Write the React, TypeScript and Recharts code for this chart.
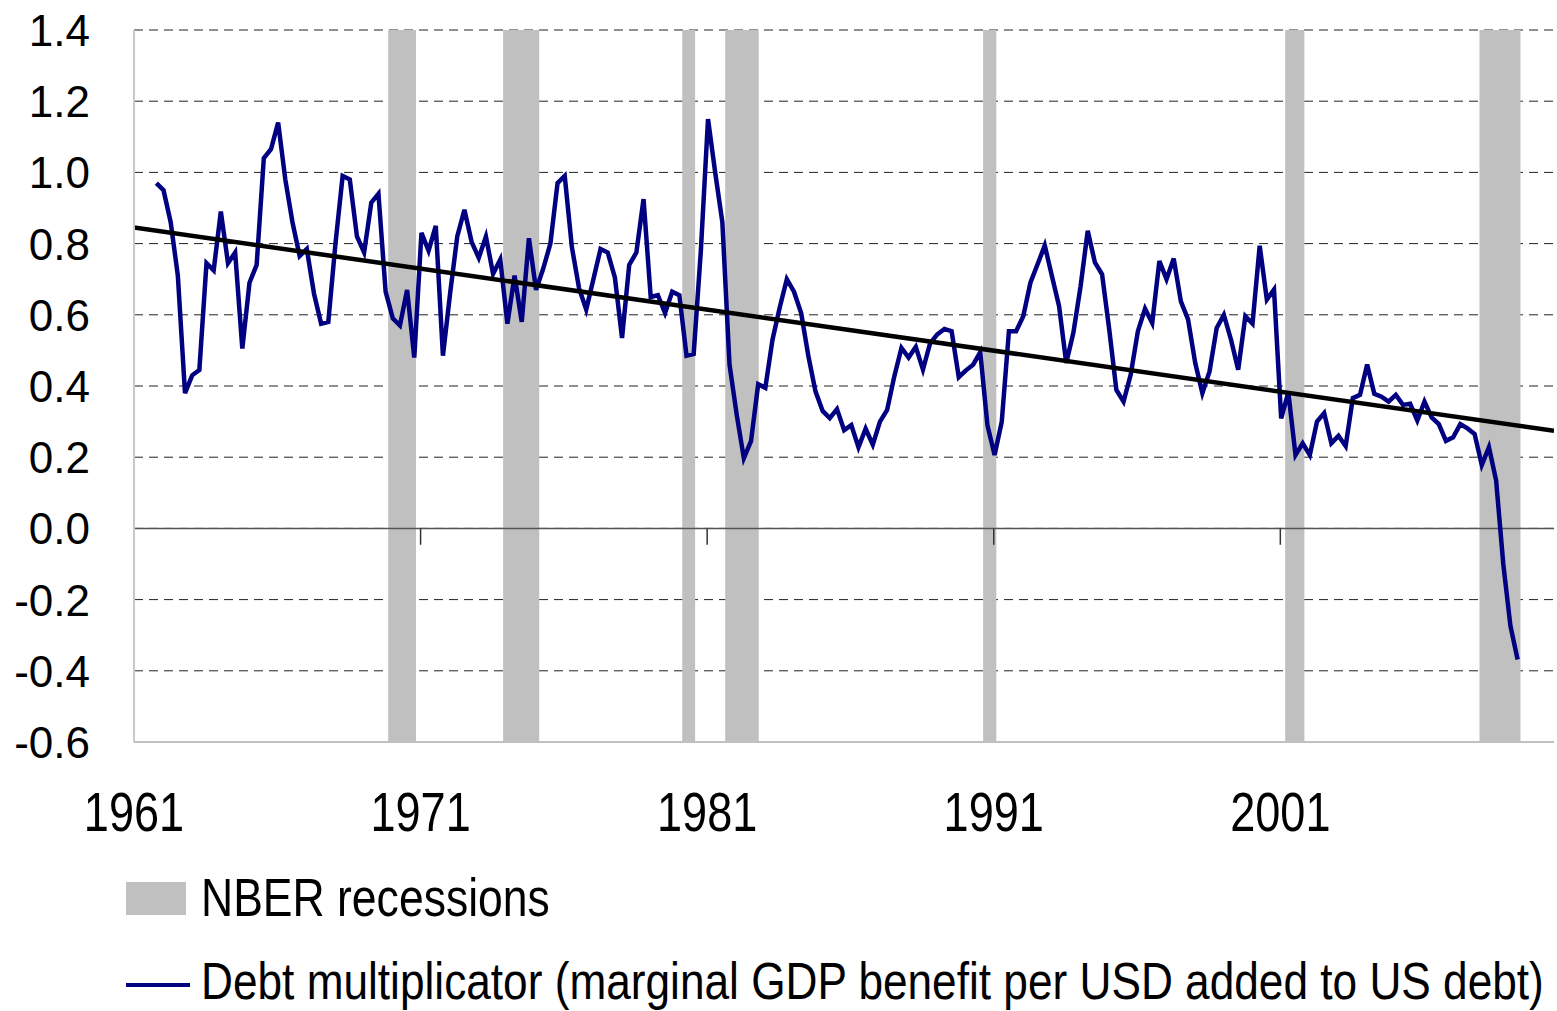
import React from "react";
import { ComposedChart, Line, XAxis, YAxis, CartesianGrid, ReferenceArea, ReferenceLine } from "recharts";

// quarterly debt multiplicator, starting 1961 Q4
const FIRST_QUARTER = 1961.78;
const MULTIPLIER = [
    0.97, 0.95, 0.86, 0.71, 0.38, 0.43, 0.445, 0.745, 0.725, 0.89,
    0.745, 0.775, 0.505, 0.69, 0.74, 1.04, 1.065, 1.14, 0.98, 0.86,
    0.765, 0.785, 0.66, 0.575, 0.58, 0.8, 0.99, 0.98, 0.82, 0.775,
    0.915, 0.94, 0.665, 0.59, 0.57, 0.67, 0.48, 0.83, 0.78, 0.85,
    0.485, 0.66, 0.82, 0.895, 0.805, 0.76, 0.82, 0.715, 0.755, 0.575,
    0.71, 0.58, 0.815, 0.67, 0.73, 0.8, 0.97, 0.99, 0.79, 0.675,
    0.615, 0.7, 0.785, 0.775, 0.705, 0.535, 0.74, 0.775, 0.925, 0.65,
    0.655, 0.605, 0.665, 0.655, 0.485, 0.49, 0.78, 1.15, 1.0, 0.86,
    0.46, 0.32, 0.197, 0.245, 0.405, 0.395, 0.53, 0.62, 0.7, 0.665,
    0.605, 0.485, 0.385, 0.33, 0.31, 0.335, 0.276, 0.29, 0.228, 0.28,
    0.235, 0.3, 0.333, 0.427, 0.507, 0.48, 0.51, 0.446, 0.52, 0.545,
    0.56, 0.554, 0.425, 0.444, 0.46, 0.495, 0.29, 0.206, 0.3, 0.554,
    0.554, 0.596, 0.69, 0.742, 0.795, 0.709, 0.624, 0.465, 0.55, 0.68,
    0.836, 0.747, 0.714, 0.559, 0.389, 0.356, 0.432, 0.554, 0.617, 0.577,
    0.751, 0.7, 0.758, 0.638, 0.587, 0.465, 0.38, 0.441, 0.563, 0.6,
    0.53, 0.446, 0.596, 0.575, 0.794, 0.643, 0.671, 0.309, 0.382, 0.206,
    0.239, 0.206, 0.3, 0.324, 0.239, 0.26, 0.231, 0.366, 0.375, 0.46,
    0.378, 0.37, 0.356, 0.375, 0.347, 0.35, 0.303, 0.356, 0.312, 0.293,
    0.246, 0.256, 0.293, 0.281, 0.265, 0.178, 0.228, 0.135, -0.1, -0.274,
    -0.368,
];

// linear trend end points
const TREND_YEARS = [1961, 2010.55];
const TREND_VALUES = [0.845, 0.274];

// NBER recession start / end (decimal years)
const RECESSION_START = [1969.87, 1973.88, 1980.13, 1981.63, 1990.63, 2001.17, 2007.95];
const RECESSION_END = [1970.84, 1975.14, 1980.58, 1982.8, 1991.09, 2001.84, 2009.38];

const YEAR_TICKS = [1961, 1971, 1981, 1991, 2001];
const VALUE_TICKS = [-0.6, -0.4, -0.2, 0, 0.2, 0.4, 0.6, 0.8, 1.0, 1.2, 1.4];

const LEGEND_LABELS = ["NBER recessions", "Debt multiplicator (marginal GDP benefit per USD added to US debt)"];

const series = MULTIPLIER.map((v, i) => ({ t: FIRST_QUARTER + i * 0.25, value: v }));
const trend = TREND_YEARS.map((t, i) => ({ t, trend: TREND_VALUES[i] }));

const SANS = '"Liberation Sans", Arial, sans-serif';
const NARROW = 0.82; // no narrow font installed, squeeze the regular one

const YearTick = (props: any) => {
    const { x, y, payload } = props;
    return (
        <text transform={`translate(${x},${y + 89}) scale(${NARROW},1)`} textAnchor="middle" fontFamily={SANS} fontSize={55} fill="#000">
            {payload.value}
        </text>
    );
};

const ValueTick = (props: any) => {
    const { x, y, payload } = props;
    return (
        <text x={x - 44} y={y + 16} textAnchor="end" fontFamily={SANS} fontSize={44} fill="#000">
            {Number(payload.value).toFixed(1)}
        </text>
    );
};

export default function App() {
    return (
        <div style={{ position: "absolute", left: 0, top: 0, width: 1557, height: 1011, background: "#fff", overflow: "hidden" }}>
            <ComposedChart width={1557} height={1011} data={series} margin={{ top: 30, right: 3, left: 0, bottom: 0 }}>
                <CartesianGrid vertical={false} stroke="#222" strokeDasharray="9 6" horizontalValues={VALUE_TICKS} />
                {RECESSION_START.map((s, i) => (
                    <ReferenceArea key={s} x1={s} x2={RECESSION_END[i]} y1={-0.6} y2={1.4} fill="#c0c0c0" fillOpacity={1} stroke="none" />
                ))}
                <ReferenceLine y={-0.6} stroke="#c0c0c0" strokeWidth={2} />
                <ReferenceLine y={0} stroke="#555" strokeWidth={1.5} />
                {YEAR_TICKS.map((yr) => (
                    <ReferenceLine key={yr} segment={[{ x: yr, y: 0 }, { x: yr, y: -0.046 }]} stroke="#333" strokeWidth={1.5} />
                ))}
                <XAxis
                    dataKey="t"
                    type="number"
                    domain={[1961, 2010.55]}
                    ticks={YEAR_TICKS}
                    allowDataOverflow
                    axisLine={false}
                    tickLine={false}
                    tickSize={0}
                    tickMargin={0}
                    height={269}
                    tick={<YearTick />}
                    interval={0}
                />
                <YAxis
                    type="number"
                    domain={[-0.6, 1.4]}
                    ticks={VALUE_TICKS}
                    width={134}
                    axisLine={{ stroke: "#c8c8c8", strokeWidth: 2 }}
                    tickLine={false}
                    tickSize={0}
                    tickMargin={0}
                    tick={<ValueTick />}
                    interval={0}
                />
                <Line dataKey="value" type="linear" stroke="#000080" strokeWidth={4.5} dot={false} isAnimationActive={false} />
                <Line data={trend} dataKey="trend" type="linear" stroke="#000" strokeWidth={4.5} dot={false} isAnimationActive={false} />
            </ComposedChart>
            <svg width={1557} height={1011} style={{ position: "absolute", left: 0, top: 0, pointerEvents: "none" }}>
                <rect x={126} y={882} width={60} height={33} fill="#c0c0c0" />
                <text transform={`translate(201,916) scale(0.84,1)`} fontFamily={SANS} fontSize={53} fill="#000">
                    {LEGEND_LABELS[0]}
                </text>
                <line x1={126} x2={190} y1={985} y2={985} stroke="#000080" strokeWidth={4} />
                <text transform={`translate(201,999) scale(0.85,1)`} fontFamily={SANS} fontSize={52} fill="#000">
                    {LEGEND_LABELS[1]}
                </text>
            </svg>
        </div>
    );
}
